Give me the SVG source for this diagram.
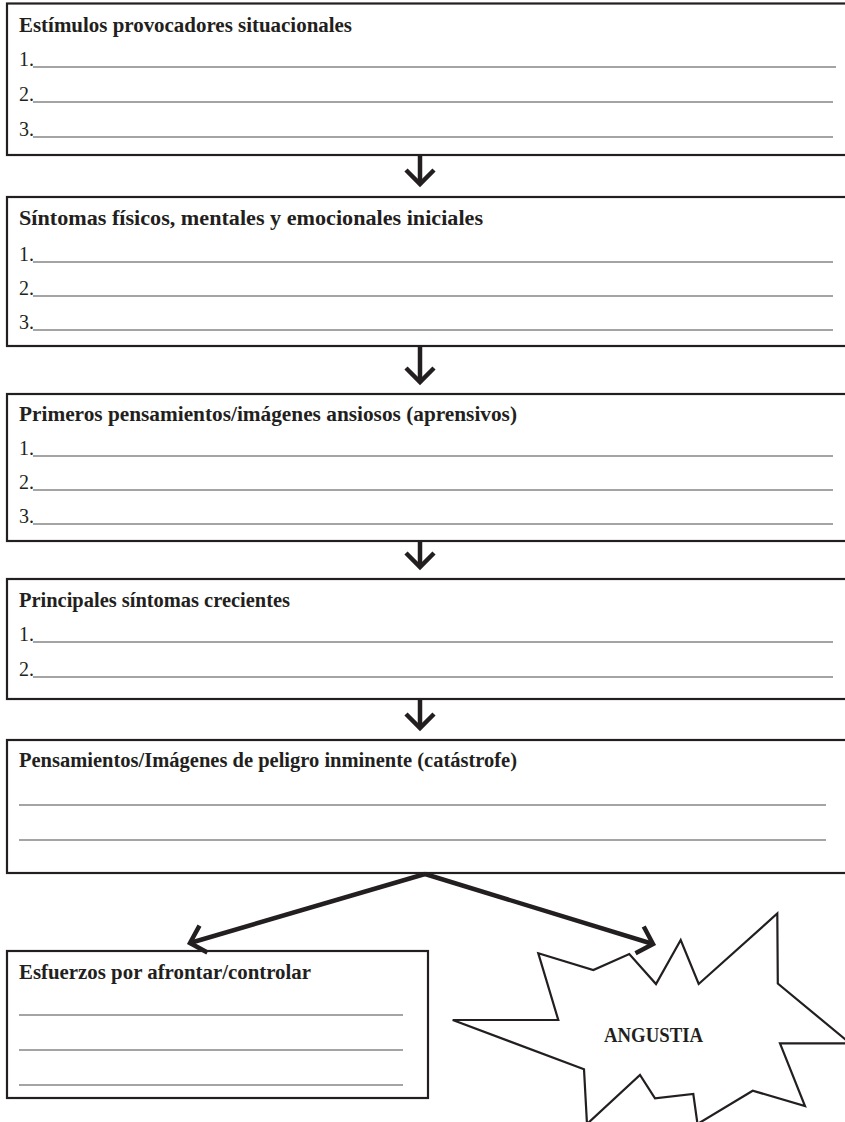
<svg xmlns="http://www.w3.org/2000/svg" width="845" height="1122" viewBox="0 0 845 1122">
  <style>
    .box { fill: #ffffff; stroke: #231f20; stroke-width: 2.2; }
    .title { font-family: "Liberation Serif", "Times New Roman", serif; font-weight: bold; font-size: 20px; fill: #231f20; }
    .num { font-family: "Liberation Serif", "Times New Roman", serif; font-size: 20px; fill: #231f20; }
    .blank { stroke: #4a4a4a; stroke-width: 1.1; }
    .arrow { fill: none; stroke: #231f20; stroke-width: 4.5; stroke-linejoin: miter; }
    .burst { fill: #ffffff; stroke: #231f20; stroke-width: 2.2; stroke-linejoin: miter; }
    .burst-label { font-family: "Liberation Serif", "Times New Roman", serif; font-weight: bold; font-size: 21px; fill: #231f20; }
  </style>
  <defs>
    <marker id="chevron" markerUnits="userSpaceOnUse" viewBox="-20 -20 24 40" markerWidth="24" markerHeight="40" refX="0" refY="0" orient="auto" overflow="visible">
      <path d="M -14 -14 L 0 0 L -14 14" fill="none" stroke="#231f20" stroke-width="4.5" stroke-linejoin="miter"/>
    </marker>
  </defs>
  <rect width="845" height="1122" fill="#ffffff"/>

  <!-- Situational triggers -->
  <g id="estimulos">
    <rect class="box" x="7" y="3.5" width="842" height="151.5"/>
    <text class="title" x="19" y="32" textLength="333" lengthAdjust="spacingAndGlyphs">Estímulos provocadores situacionales</text>
    <text class="num" x="19" y="66">1.</text>
    <line class="blank" x1="33" y1="67" x2="836" y2="67"/>
    <text class="num" x="19" y="101">2.</text>
    <line class="blank" x1="33" y1="102" x2="833" y2="102"/>
    <text class="num" x="19" y="136">3.</text>
    <line class="blank" x1="33" y1="137" x2="833" y2="137"/>
  </g>

  <!-- Initial symptoms -->
  <g id="sintomas-iniciales">
    <rect class="box" x="7" y="197" width="842" height="149"/>
    <text class="title" x="19" y="225" textLength="464" lengthAdjust="spacingAndGlyphs">Síntomas físicos, mentales y emocionales iniciales</text>
    <text class="num" x="19" y="261">1.</text>
    <line class="blank" x1="33" y1="262" x2="833" y2="262"/>
    <text class="num" x="19" y="295">2.</text>
    <line class="blank" x1="33" y1="296" x2="833" y2="296"/>
    <text class="num" x="19" y="329">3.</text>
    <line class="blank" x1="33" y1="330" x2="833" y2="330"/>
  </g>

  <!-- First anxious thoughts -->
  <g id="primeros-pensamientos">
    <rect class="box" x="7" y="394" width="842" height="147"/>
    <text class="title" x="19" y="421" textLength="498" lengthAdjust="spacingAndGlyphs">Primeros pensamientos/imágenes ansiosos (aprensivos)</text>
    <text class="num" x="19" y="455">1.</text>
    <line class="blank" x1="33" y1="456" x2="833" y2="456"/>
    <text class="num" x="19" y="489">2.</text>
    <line class="blank" x1="33" y1="490" x2="833" y2="490"/>
    <text class="num" x="19" y="523">3.</text>
    <line class="blank" x1="33" y1="524" x2="833" y2="524"/>
  </g>

  <!-- Main growing symptoms -->
  <g id="sintomas-crecientes">
    <rect class="box" x="7" y="579" width="842" height="120"/>
    <text class="title" x="19" y="607" textLength="271" lengthAdjust="spacingAndGlyphs">Principales síntomas crecientes</text>
    <text class="num" x="19" y="641">1.</text>
    <line class="blank" x1="33" y1="642" x2="833" y2="642"/>
    <text class="num" x="19" y="676">2.</text>
    <line class="blank" x1="33" y1="677" x2="833" y2="677"/>
  </g>

  <!-- Imminent danger thoughts -->
  <g id="peligro-inminente">
    <rect class="box" x="7" y="740" width="842" height="133"/>
    <text class="title" x="19" y="767" textLength="498" lengthAdjust="spacingAndGlyphs">Pensamientos/Imágenes de peligro inminente (catástrofe)</text>
    <line class="blank" x1="19" y1="805" x2="826" y2="805"/>
    <line class="blank" x1="19" y1="840" x2="826" y2="840"/>
  </g>

  <!-- Coping efforts -->
  <g id="esfuerzos">
    <rect class="box" x="7" y="951" width="421" height="147"/>
    <text class="title" x="19" y="979" textLength="292" lengthAdjust="spacingAndGlyphs">Esfuerzos por afrontar/controlar</text>
    <line class="blank" x1="19" y1="1015" x2="403" y2="1015"/>
    <line class="blank" x1="19" y1="1050" x2="403" y2="1050"/>
    <line class="blank" x1="19" y1="1085" x2="403" y2="1085"/>
  </g>

  <!-- Distress burst -->
  <g id="angustia">
    <polygon class="burst" points="538.3,953.3 593.3,970 629.3,954 656,984 680.7,940 698.7,984 777.3,913.5 777.8,983.5 850,1043.3 780,1043.3 805,1106 752.7,1090.7 697.5,1124 693.3,1094 655,1098.3 640,1075 587,1124 584,1069.3 452.7,1020 558.3,1020"/>
    <text class="burst-label" x="604" y="1042" textLength="99" lengthAdjust="spacingAndGlyphs">ANGUSTIA</text>
  </g>

  <!-- Connectors -->
  <g id="connectors">
    <line class="arrow" x1="420" y1="155" x2="420" y2="184" marker-end="url(#chevron)"/>
    <line class="arrow" x1="420" y1="346" x2="420" y2="382" marker-end="url(#chevron)"/>
    <line class="arrow" x1="420" y1="541" x2="420" y2="567" marker-end="url(#chevron)"/>
    <line class="arrow" x1="420" y1="699" x2="420" y2="728" marker-end="url(#chevron)"/>
    <line class="arrow" x1="425" y1="874" x2="190" y2="943" marker-end="url(#chevron)"/>
    <line class="arrow" x1="425" y1="874" x2="653" y2="944" marker-end="url(#chevron)"/>
  </g>
</svg>
